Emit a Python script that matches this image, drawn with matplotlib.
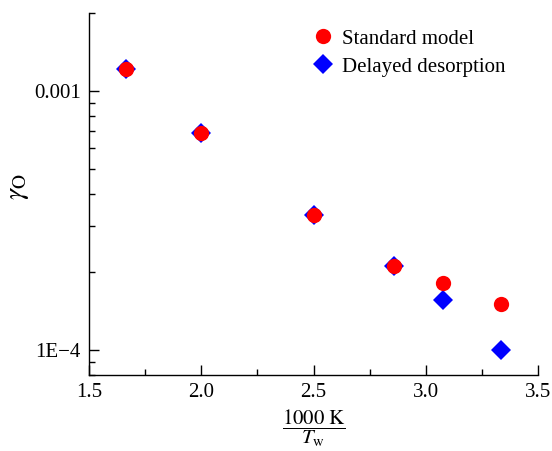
import numpy as np
import matplotlib
matplotlib.use('Agg')
import matplotlib.pyplot as plt
from matplotlib.ticker import FixedLocator, FuncFormatter, LogLocator, MultipleLocator

# 数据
x_vals = [1000 / 600, 1000 / 500, 1000 / 400, 1000 / 350, 1000 / 325, 1000 / 300]
standard_model = [1.22e-3, 6.9e-4, 3.32e-4, 2.10e-4, 1.81e-4, 1.50e-4]
delayed_desorption = [1.22e-3, 6.9e-4, 3.32e-4, 2.10e-4, 1.56e-4, 1.0e-4]

plt.rcParams['font.family'] = ['Liberation Serif', 'DejaVu Serif']
plt.rcParams['mathtext.fontset'] = 'stix'

fig = plt.figure(figsize=(5.52, 4.51), dpi=100)
ax = fig.add_axes([89 / 552, 1 - 375 / 451, (538 - 89) / 552, (375 - 13) / 451])

ax.plot(x_vals, delayed_desorption, 'D', color='#0000ff', markersize=10,
        markeredgewidth=0, label='Delayed desorption', zorder=3)
ax.plot(x_vals, standard_model, 'o', color='#ff0000', markersize=11,
        markeredgewidth=0, label='Standard model', zorder=4)

ax.set_yscale('log')
ax.set_xlim(1.5, 3.5)
ax.set_ylim(8e-5, 2e-3)

ax.xaxis.set_major_locator(MultipleLocator(0.5))
ax.xaxis.set_minor_locator(MultipleLocator(0.25))
ax.xaxis.set_major_formatter(FuncFormatter(lambda v, p: f'{v:.1f}'))

ax.yaxis.set_major_locator(FixedLocator([1e-4, 1e-3]))
ax.yaxis.set_minor_locator(LogLocator(base=10, subs=np.arange(2, 10)))
ax.yaxis.set_major_formatter(FuncFormatter(lambda v, p: '0.001' if v > 5e-4 else '1E\u22124'))
ax.yaxis.set_minor_formatter(FuncFormatter(lambda v, p: ''))

ax.tick_params(which='both', direction='in', labelsize=15, width=1, top=False, right=False)
ax.tick_params(which='major', length=7)
ax.tick_params(which='minor', length=4)
ax.tick_params(axis='x', pad=6)
ax.tick_params(axis='y', pad=6)

for s in ['top', 'right']:
    ax.spines[s].set_visible(False)
for s in ['left', 'bottom']:
    ax.spines[s].set_linewidth(1)

ax.set_xlabel(r'$\dfrac{1000\ \mathrm{K}}{T_\mathrm{w}}$', fontsize=15, labelpad=4)
ax.set_ylabel(r'$\gamma_\mathrm{O}$', fontsize=20)
ax.yaxis.set_label_coords(-0.13, 0.52)

handles, labels = ax.get_legend_handles_labels()
ax.legend(handles[::-1], labels[::-1], loc='upper right', frameon=False, fontsize=15,
          handletextpad=0.3, borderaxespad=0.2, labelspacing=0.4, handlelength=1.2,
          bbox_to_anchor=(0.955, 0.99))

fig.savefig('out.png', dpi=100)
